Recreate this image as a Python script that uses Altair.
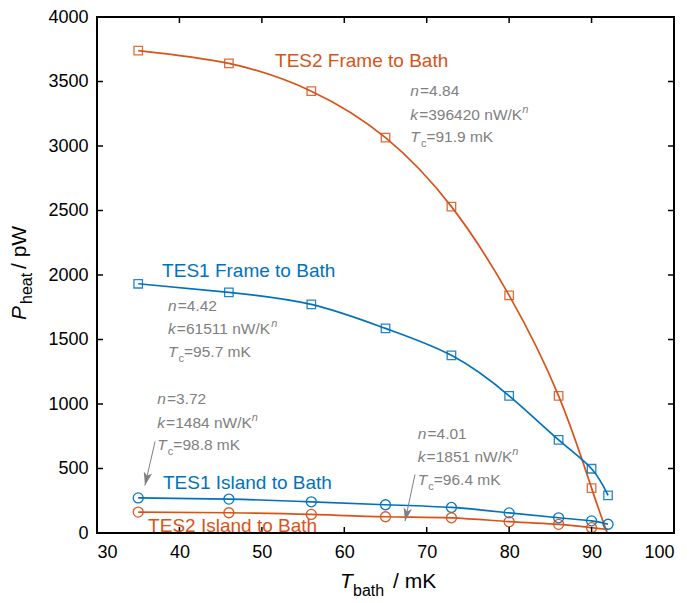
import math
import altair as alt
import pandas as pd

# ---------------- data ----------------
t_frame2 = [35, 46, 56, 65, 73, 80, 86, 90]
p_frame2 = [3740, 3640, 3425, 3065, 2530, 1842, 1063, 348]

t_frame1 = [35, 46, 56, 65, 73, 80, 86, 90, 92]
p_frame1 = [1932, 1866, 1772, 1586, 1377, 1063, 722, 498, 292]

t_isl1 = [35, 46, 56, 65, 73, 80, 86, 90, 92]
p_isl1 = [272, 263, 242, 219, 198, 156, 118, 94, 68]

t_isl2 = [35, 46, 56, 65, 73, 80, 86, 90]
p_isl2 = [162, 157, 144, 126, 118, 88, 67, 41]

fit_end_frame2 = (91.9, 0)
fit_end_isl2 = (92.0, 27)

x_ticks = [30, 40, 50, 60, 70, 80, 90, 100]
y_ticks = [0, 500, 1000, 1500, 2000, 2500, 3000, 3500, 4000]

series_names = ["TES2 Frame", "TES1 Frame", "TES1 Island", "TES2 Island"]

# ---------------- style ----------------
ORANGE = "#D95319"
BLUE = "#0072BD"
GRAY = "#808080"
INK = "#000000"
FONT = "Liberation Sans"
W, H = 577, 516
XMIN, XMAX, YMIN, YMAX = 30, 100, 0, 4000
PX_T = W / (XMAX - XMIN)
PX_P = H / (YMAX - YMIN)

xsc = alt.Scale(domain=[XMIN, XMAX], nice=False, zero=False)
ysc = alt.Scale(domain=[YMIN, YMAX], nice=False)
color_scale = alt.Scale(domain=series_names, range=[ORANGE, BLUE, BLUE, ORANGE])

X = lambda f: alt.X(f, type="quantitative", scale=xsc,
                    axis=alt.Axis(values=x_ticks, tickSize=0, domain=False, grid=False,
                                  labelFontSize=18, labelFont=FONT, labelColor="black",
                                  labelPadding=10, title=None, format="d"))
Y = lambda f: alt.Y(f, type="quantitative", scale=ysc,
                    axis=alt.Axis(values=y_ticks, tickSize=0, domain=False, grid=False,
                                  labelFontSize=18, labelFont=FONT, labelColor="black",
                                  labelPadding=9, title=None, format="d"))

# ---------------- tables ----------------
pts_rows = []
for name, ts, ps in [("TES2 Frame", t_frame2, p_frame2), ("TES1 Frame", t_frame1, p_frame1),
                     ("TES1 Island", t_isl1, p_isl1), ("TES2 Island", t_isl2, p_isl2)]:
    for t, p in zip(ts, ps):
        pts_rows.append({"series": name, "T": t, "P": p})
pts = pd.DataFrame(pts_rows)

line_rows = []
for name, ts, ps, end in [("TES2 Frame", t_frame2, p_frame2, fit_end_frame2),
                          ("TES1 Frame", t_frame1, p_frame1, None),
                          ("TES1 Island", t_isl1, p_isl1, None),
                          ("TES2 Island", t_isl2, p_isl2, fit_end_isl2)]:
    tt, pp = list(ts), list(ps)
    if end is not None:
        tt.append(end[0]); pp.append(end[1])
    for i, (t, p) in enumerate(zip(tt, pp)):
        line_rows.append({"series": name, "T": t, "P": p, "ord": i})
lines_df = pd.DataFrame(line_rows)

lines = alt.Chart(lines_df).mark_line(interpolate="natural", strokeWidth=1.7).encode(
    x=X("T"), y=Y("P"),
    color=alt.Color("series:N", scale=color_scale, legend=None),
    detail="series:N", order="ord:Q")

squares = alt.Chart(pts[pts.series.str.contains("Frame")]).mark_point(
    shape="square", size=72, filled=False, strokeWidth=1.3, opacity=0.85).encode(
    x=X("T"), y=Y("P"), color=alt.Color("series:N", scale=color_scale, legend=None))

circles = alt.Chart(pts[pts.series.str.contains("Island")]).mark_point(
    shape="circle", size=100, filled=False, strokeWidth=1.3, opacity=0.95).encode(
    x=X("T"), y=Y("P"), color=alt.Color("series:N", scale=color_scale, legend=None))

# frame and inward ticks drawn as line paths in data coordinates
TL = 6
seg_list = [
    [(XMIN, YMIN), (XMAX, YMIN), (XMAX, YMAX), (XMIN, YMAX), (XMIN, YMIN)],
]
for v in x_ticks[1:-1]:
    seg_list.append([(v, YMIN), (v, YMIN + TL / PX_P)])
    seg_list.append([(v, YMAX), (v, YMAX - TL / PX_P)])
for v in y_ticks[1:-1]:
    seg_list.append([(XMIN, v), (XMIN + TL / PX_T, v)])
    seg_list.append([(XMAX, v), (XMAX - TL / PX_T, v)])
box_rows = []
for sid, seg in enumerate(seg_list):
    for o, (t, p) in enumerate(seg):
        box_rows.append({"sid": sid, "o": o, "bt": t, "bp": p, "w": 2 if sid == 0 else 1.5})
box_df = pd.DataFrame(box_rows)
frame_layer = alt.Chart(box_df[box_df.sid == 0]).mark_line(color=INK, strokeWidth=2, opacity=1).encode(
    x=X("bt"), y=Y("bp"), order="o:Q")
tick_layer = alt.Chart(box_df[box_df.sid > 0]).mark_line(color=INK, strokeWidth=1.5, opacity=1).encode(
    x=X("bt"), y=Y("bp"), detail="sid:N", order="o:Q")

# ---------------- annotations (rich text built from segments) ----------------
CW = {"0": .556, "1": .556, "2": .556, "3": .556, "4": .556, "5": .556, "6": .556, "7": .556,
      "8": .556, "9": .556, ".": .278, "=": .584, " ": .278, "n": .556, "k": .5, "T": .611,
      "c": .5, "W": .944, "/": .278, "K": .667, "m": .833}


def tw(s, fs):
    return sum(CW.get(ch, .556) for ch in s) * fs


seg_rows = []


def rich(T, P, segs, color, fs=15.5, sfs=11):
    dx = 0.0
    for text, kind in segs:
        if kind in ("sub", "sup"):
            size, dy = sfs, (5 if kind == "sub" else -7)
            italic = kind == "sup"
        else:
            size, dy = fs, 0
            italic = kind == "i"
        seg_rows.append({"x": T + dx / PX_T, "y": P - dy / PX_P, "text": text,
                         "color": color, "fs": size, "italic": italic})
        dx += tw(text, size) + (1.2 if kind == "i" else 0)


def param_block(T, P, n, k, tc, gap=0):
    rich(T, P, [("n", "i"), ("=" + n, "r")], GRAY)
    rich(T, P - 23.5 / PX_P, [("k", "i"), ("=" + k + " nW/K", "r"), ((" " if gap else "") + "n", "sup")], GRAY)
    rich(T, P - 46 / PX_P, [("T", "i"), ("c", "sub"), ("=" + tc + " mK", "r")], GRAY)


rich(51.6, 3615, [("TES2 Frame to Bath", "r")], ORANGE, fs=19)
param_block(68.0, 3385, "4.84", "396420", "91.9")
rich(37.9, 1985, [("TES1 Frame to Bath", "r")], BLUE, fs=19)
param_block(38.6, 1723, "4.42", "61511", "95.7", gap=1)
param_block(37.3, 1000, "3.72", "1484", "98.8")
rich(38.0, 338, [("TES1 Island to Bath", "r")], BLUE, fs=19)
rich(36.2, 10, [("TES2 Island to Bath", "r")], ORANGE, fs=19)
param_block(68.9, 731, "4.01", "1851", "96.4")

segs = pd.DataFrame(seg_rows)
text_layers = []
for it in (False, True):
    sub = segs[segs.italic == it]
    text_layers.append(alt.Chart(sub).mark_text(
        align="left", baseline="alphabetic", font=FONT,
        fontStyle="italic" if it else "normal").encode(
        x=X("x"), y=Y("y"), text="text:N",
        color=alt.Color("color:N", scale=None), size=alt.Size("fs:Q", scale=None)))

# arrows
arrows = [((37.04, 708), (35.82, 369)), ((68.58, 454), (67.37, 92))]
arrow_rows = []
head_rows = []
for (t0, p0), (t1, p1) in arrows:
    arrow_rows.append({"T": t0, "P": p0, "T2": t1, "P2": p1})
    bx = (t0 - t1) * PX_T
    by = -(p0 - p1) * PX_P
    ang = math.degrees(math.atan2(bx, -by)) % 360
    head_rows.append({"T": t1, "P": p1, "ang": ang})
arrow_df = pd.DataFrame(arrow_rows)
head_df = pd.DataFrame(head_rows)
arrow_lines = alt.Chart(arrow_df).mark_rule(color=GRAY, strokeWidth=1).encode(
    x=X("T"), y=Y("P"), x2="T2", y2="P2")
arrow_heads = alt.Chart(head_df).mark_point(
    shape="M0,0 L-0.45,-1.4 L0,-1.05 L0.45,-1.4 Z", size=360, filled=True,
    color=GRAY, opacity=1, strokeWidth=0).encode(
    x=X("T"), y=Y("P"), angle=alt.Angle("ang:Q", scale=None))

one = pd.DataFrame({"a": [0]})


def ptext(txt, x, y, fs, italic=False, angle=0):
    kw = dict(align="left", baseline="alphabetic", font=FONT, fontSize=fs, color="black",
              fontStyle="italic" if italic else "normal")
    if angle:
        kw["angle"] = angle
    return alt.Chart(one).mark_text(**kw).encode(x=alt.value(x), y=alt.value(y), text=alt.value(txt))


titles = [
    ptext("T", 243, 571, 21, italic=True),
    ptext("bath", 256, 579, 16),
    ptext("/ mK", 296, 571, 21),
    ptext("P", -71, 303, 21, italic=True, angle=270),
    ptext("heat", -65, 287, 16, angle=270),
    ptext("/ pW", -71, 252, 21, angle=270),
]

chart = alt.layer(lines, squares, circles, frame_layer, tick_layer, *text_layers,
                  arrow_lines, arrow_heads, *titles).properties(
    width=W, height=H,
    background="white",
    autosize=alt.AutoSizeParams(type="none"),
    padding={"left": 89, "top": 9, "right": 8, "bottom": 70},
).configure_view(stroke="#000000", strokeWidth=2)

chart.save("out.html", embed_options={"renderer": "svg", "actions": False})
